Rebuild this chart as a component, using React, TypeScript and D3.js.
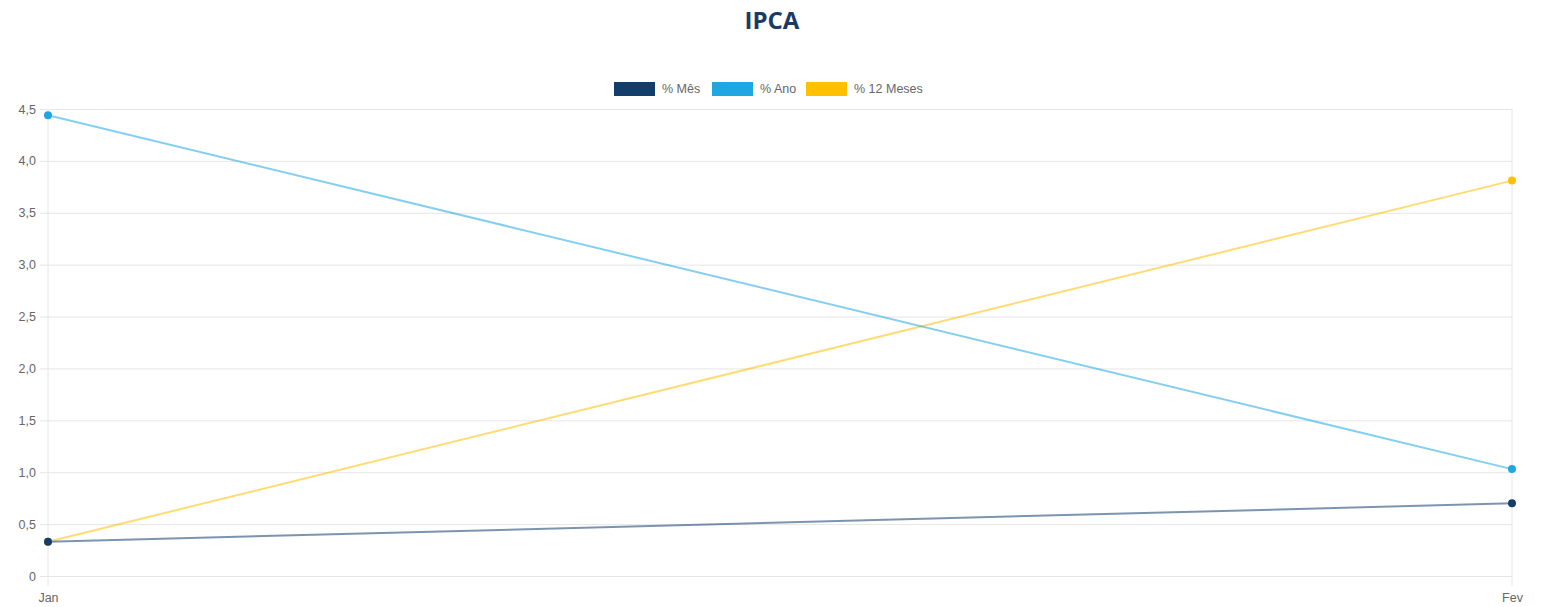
import React, { useEffect, useRef } from 'react'
import * as d3 from 'd3'

// months on the x axis
const months = ['Jan', 'Fev']

// series values
const mes = [0.33, 0.7]
const ano = [4.44, 1.03]
const dozeMeses = [0.33, 3.81]

const yTicks = [0, 0.5, 1, 1.5, 2, 2.5, 3, 3.5, 4, 4.5]

const seriesNames = ['% Mês', '% Ano', '% 12 Meses']
const seriesColors = ['#133d6b', '#1fa7e1', '#ffc000']

export default function App() {
  const ref = useRef<SVGSVGElement>(null)

  useEffect(() => {
    const svg = d3.select(ref.current)
    svg.selectAll('*').remove()

    const margin = { top: 109, right: 32, bottom: 31, left: 48 }
    const W = 1544, H = 607
    const width = W - margin.left - margin.right
    const height = H - margin.top - margin.bottom

    const fmt = (d: number) => d === 0 ? '0' : d3.format('.1f')(d).replace('.', ',')
    const labelFont = '"Liberation Sans", Arial, sans-serif'

    // title
    svg.append('text')
      .attr('x', 772).attr('y', 29)
      .attr('text-anchor', 'middle')
      .attr('font-family', '"Open Sans", sans-serif')
      .attr('font-weight', 700)
      .attr('font-size', 24)
      .attr('fill', '#1a3a66')
      .text('IPCA')

    // legend
    const legendX = [614, 712, 806]
    seriesNames.forEach((name, i) => {
      const g = svg.append('g').attr('transform', 'translate(' + legendX[i] + ',82)')
      g.append('rect').attr('width', 41).attr('height', 14).attr('fill', seriesColors[i])
      g.append('text')
        .attr('x', 48).attr('y', 11)
        .attr('font-family', labelFont)
        .attr('font-size', 12.5)
        .attr('fill', '#666')
        .text(name)
    })

    const g = svg.append('g').attr('transform', 'translate(' + margin.left + ',' + margin.top + ')')

    const x = d3.scalePoint().domain(months).range([0, width])
    const y = d3.scaleLinear().domain([0, 4.5]).range([height, 0])

    // horizontal grid + y labels
    const gY = g.append('g').call(d3.axisLeft(y).tickValues(yTicks).tickSize(8).tickPadding(4).tickFormat((d: any) => fmt(+d)))
    gY.select('.domain').remove()
    gY.selectAll('.tick line').attr('stroke', '#e6e6e6').attr('x2', width)
      .attr('x1', -8)
    gY.selectAll('.tick text')
      .attr('font-family', labelFont)
      .attr('font-size', 12.5).attr('fill', '#666')

    const gX = g.append('g').attr('transform', 'translate(0,' + height + ')')
      .call(d3.axisBottom(x).tickSize(0).tickPadding(17))
    gX.select('.domain').remove()
    gX.selectAll('.tick text')
      .attr('font-family', labelFont)
      .attr('font-size', 12.5).attr('fill', '#666')

    // vertical grid lines
    months.forEach(m => {
      g.append('line')
        .attr('x1', x(m)!).attr('x2', x(m)!)
        .attr('y1', 0).attr('y2', height + 10)
        .attr('stroke', '#e6e6e6')
    })

    const data = [mes, ano, dozeMeses]
    const line = d3.line<number>()
      .x((d, i) => x(months[i])!)
      .y(d => y(d))

    // draw last series first so % Mês ends on top
    const order = [2, 1, 0]
    order.forEach(si => {
      g.append('path')
        .datum(data[si])
        .attr('d', line)
        .attr('fill', 'none')
        .attr('stroke', seriesColors[si])
        .attr('stroke-opacity', 0.55)
        .attr('stroke-width', 2)
    })
    order.forEach(si => {
      g.selectAll('.pt' + si)
        .data(data[si])
        .enter()
        .append('circle')
        .attr('cx', (d, i) => x(months[i])!)
        .attr('cy', d => y(d))
        .attr('r', 4)
        .attr('fill', seriesColors[si])
    })
  }, [])

  return (
    <svg ref={ref} width={1544} height={607}
      style={{ position: 'absolute', left: 0, top: 0, background: '#fff' }} />
  )
}
